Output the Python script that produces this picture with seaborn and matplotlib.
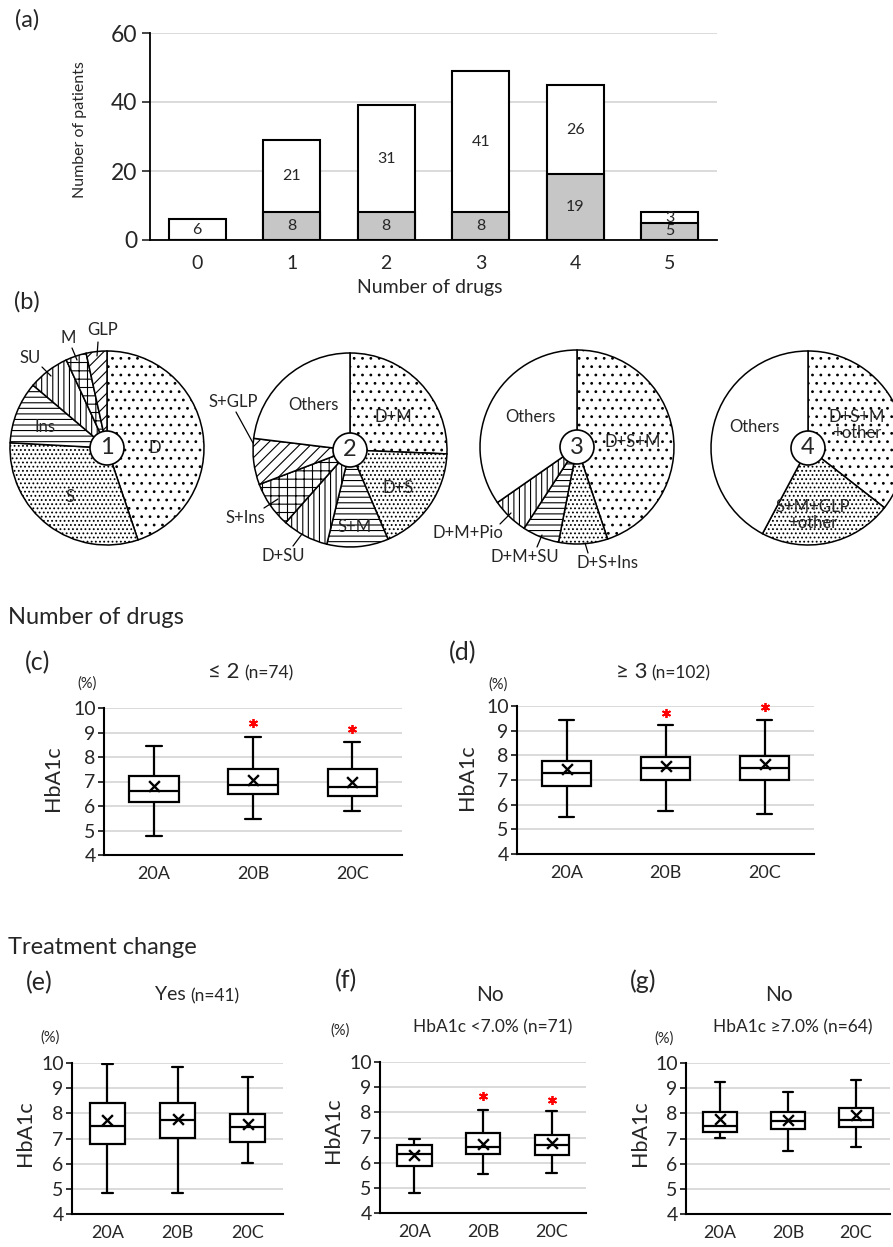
import numpy as np
import pandas as pd
import matplotlib
matplotlib.use("Agg")
import matplotlib.pyplot as plt
import seaborn as sns
from matplotlib.patches import Circle

# ---------------- data ----------------
# (a) stacked bars
n_drugs = ["0", "1", "2", "3", "4", "5"]
grey_counts = [0, 8, 8, 8, 19, 5]
white_counts = [6, 21, 31, 41, 26, 3]

# (b) pies (patients per regimen)
pie1_labels = ["D", "S", "Ins", "SU", "M", "GLP"]
pie1_values = [13, 9, 3, 2, 1, 1]
pie2_labels = ["D+M", "D+S", "S+M", "D+SU", "S+Ins", "S+GLP", "Others"]
pie2_values = [10, 7, 4, 3, 3, 3, 9]
pie3_labels = ["D+S+M", "D+S+Ins", "D+M+SU", "D+M+Pio", "Others"]
pie3_values = [22, 4, 3, 3, 17]
pie4_labels = ["D+S+M\n+other", "S+M+GLP\n+other", "Others"]
pie4_values = [16, 10, 19]

# (c)-(g) HbA1c box plots: [min, Q1, median, Q3, max] per group
groups = ["20A", "20B", "20C"]
c_five = [[4.78, 6.15, 6.62, 7.24, 8.43], [5.46, 6.48, 6.86, 7.49, 8.81], [5.78, 6.41, 6.79, 7.49, 8.61]]
c_mean = [6.82, 7.07, 7.00]
c_star = [None, 9.39, 9.14]
d_five = [[5.49, 6.74, 7.28, 7.79, 9.43], [5.73, 6.98, 7.49, 7.94, 9.22], [5.63, 6.98, 7.49, 7.98, 9.43]]
d_mean = [7.45, 7.57, 7.64]
d_star = [None, 9.73, 9.97]
e_five = [[4.85, 6.79, 7.50, 8.41, 9.96], [4.85, 7.01, 7.74, 8.41, 9.83], [6.02, 6.85, 7.44, 7.98, 9.44]]
e_mean = [7.74, 7.76, 7.57]
e_star = [None, None, None]
f_five = [[4.79, 5.87, 6.33, 6.69, 6.94], [5.54, 6.36, 6.62, 7.18, 8.11], [5.59, 6.32, 6.72, 7.10, 8.04]]
f_mean = [6.29, 6.73, 6.79]
f_star = [None, 8.66, 8.48]
g_five = [[7.01, 7.25, 7.48, 8.04, 9.23], [6.52, 7.38, 7.68, 8.04, 8.85], [6.65, 7.44, 7.75, 8.23, 9.34]]
g_mean = [7.77, 7.75, 7.95]
g_star = [None, None, None]

# ---------------- setup ----------------
sns.set_theme(style="white")
plt.rcParams["font.family"] = ["Lato", "DejaVu Sans"]
plt.rcParams["hatch.linewidth"] = 0.8

W, H = 893, 1247
fig = plt.figure(figsize=(W / 100, H / 100), dpi=100)


def axrect(l, t, r, b):
    return [l / W, 1 - b / H, (r - l) / W, (b - t) / H]


def ftext(x, y, s, ha="center", va="center", **kw):
    fig.text(x / W, 1 - y / H, s, ha=ha, va=va, **kw)


# ---------------- (a) bar chart ----------------
ax = fig.add_axes(axrect(150, 33, 717, 240))
totals = [g + w for g, w in zip(grey_counts, white_counts)]
sns.barplot(x=n_drugs, y=totals, order=n_drugs, color="white", edgecolor="black",
            linewidth=1.5, width=0.6, saturation=1, ax=ax, zorder=2)
sns.barplot(x=n_drugs, y=grey_counts, order=n_drugs, color="#c6c6c6", edgecolor="black",
            linewidth=1.5, width=0.6, saturation=1, ax=ax, zorder=3)
for i, (g, w) in enumerate(zip(grey_counts, white_counts)):
    if g > 0:
        ax.text(i, g / 2, str(g), ha="center", va="center", fontsize=11.5, zorder=4)
    ax.text(i, g + w / 2, str(w), ha="center", va="center", fontsize=11.5, zorder=4)
ax.set_xlim(-0.5, 5.5)
ax.set_ylim(0, 60)
ax.set_yticks([0, 20, 40, 60])
ax.yaxis.grid(True, color="#d4d4d4", lw=1.2)
ax.set_axisbelow(True)
for s in ["top", "right"]:
    ax.spines[s].set_visible(False)
for s in ["left", "bottom"]:
    ax.spines[s].set_color("black")
    ax.spines[s].set_linewidth(1.3)
ax.tick_params(axis="y", left=True, length=6, width=1.2, labelsize=16.5, pad=3)
ax.tick_params(axis="x", length=0, labelsize=14, pad=11)
ax.set_xlabel("")
ax.set_ylabel("")
ftext(80, 130, "Number of patients", rotation=90, fontsize=11.5)
ftext(430, 287, "Number of drugs", fontsize=14)
ftext(27, 20, "(a)", fontsize=17)

# ---------------- (b) pies ----------------
pax = fig.add_axes(axrect(0, 290, W, 600))
R = 97


def draw_pie(values, cx, cy, hatches, num):
    wedges, _ = pax.pie(values, colors=["white"] * len(values), startangle=90,
                        counterclock=False, center=(cx, H - cy), radius=R,
                        wedgeprops=dict(edgecolor="black", linewidth=1.1))
    for w, h in zip(wedges, hatches):
        if h:
            w.set_hatch(h)
    pax.add_patch(Circle((cx, H - cy), 17, facecolor="white", edgecolor="black", lw=1.2, zorder=5))
    pax.text(cx, H - cy, num, ha="center", va="center", fontsize=17, zorder=6)


def ptext(x, y, s, fs=12, **kw):
    pax.text(x, H - y, s, ha="center", va="center", fontsize=fs, zorder=7, **kw)


def lead(x1, y1, x2, y2):
    pax.plot([x1, x2], [H - y1, H - y2], color="black", lw=0.9, zorder=7)


draw_pie(pie1_values, 107, 448, ["..", "....", "---", "|||", "++", "///"], "1")
draw_pie(pie2_values, 350, 450, ["..", "....", "---", "|||", "++", "///", None], "2")
draw_pie(pie3_values, 577, 447, ["..", "....", "---", "|||", None], "3")
draw_pie(pie4_values, 808, 448, ["..", "....", None], "4")

# pie 1 labels
ptext(155, 448, pie1_labels[0])
ptext(70, 497, pie1_labels[1])
ptext(45, 427, pie1_labels[2])
ptext(30, 358, pie1_labels[3]); lead(42, 367, 51, 376)
ptext(68, 338, pie1_labels[4]); lead(72, 348, 77, 360)
ptext(103, 330, pie1_labels[5]); lead(98, 342, 97, 356)
# pie 2 labels
ptext(393, 417, pie2_labels[0])
ptext(398, 488, pie2_labels[1])
ptext(355, 527, pie2_labels[2])
ptext(283, 556, pie2_labels[3]); lead(293, 546, 302, 534)
ptext(245, 518, pie2_labels[4]); lead(264, 508, 278, 499)
ptext(233, 402, pie2_labels[5]); lead(236, 412, 253, 443)
ptext(313, 405, pie2_labels[6])
# pie 3 labels
ptext(633, 442, pie3_labels[0])
ptext(607, 563, pie3_labels[1]); lead(588, 553, 585, 543)
ptext(525, 557, pie3_labels[2]); lead(537, 547, 542, 535)
ptext(468, 533, pie3_labels[3]); lead(500, 524, 511, 513)
ptext(530, 417, pie3_labels[4])
# pie 4 labels
ptext(857, 425, pie4_labels[0], linespacing=1.0)
ptext(813, 515, pie4_labels[1], linespacing=1.0)
ptext(754, 427, pie4_labels[2])

pax.set_xlim(0, W)
pax.set_ylim(H - 600, H - 290)
pax.set_aspect("equal")
pax.axis("off")
ftext(27, 302, "(b)", fontsize=17)


# ---------------- (c)-(g) box plots ----------------
def box_panel(rect, five, means, stars):
    ax = fig.add_axes(axrect(*rect))
    rows = [(g, v) for g, f in zip(groups, five) for v in f]
    df = pd.DataFrame(rows, columns=["group", "HbA1c"])
    sns.boxplot(data=df, x="group", y="HbA1c", order=groups, ax=ax, width=0.5,
                color="white", linecolor="black", linewidth=1.6, whis=(0, 100),
                fliersize=0, capwidths=0.16)
    ax.scatter(range(len(groups)), means, marker="x", s=60, c="black", linewidths=1.7, zorder=6)
    for i, s in enumerate(stars):
        if s is not None:
            ax.plot(i, s, marker=(6, 2, 0), color="red", ms=6.5, mew=1.3, clip_on=False, zorder=6)
    ax.set_xlim(-0.5, 2.5)
    ax.set_ylim(4, 10)
    ax.set_yticks(range(4, 11))
    ax.yaxis.grid(True, color="#d4d4d4", lw=1.2)
    ax.set_axisbelow(True)
    for s in ["top", "right"]:
        ax.spines[s].set_visible(False)
    for s in ["left", "bottom"]:
        ax.spines[s].set_color("black")
        ax.spines[s].set_linewidth(1.5)
    ax.tick_params(axis="y", left=True, length=4, width=1.3, labelsize=14, pad=2)
    ax.tick_params(axis="x", length=0, labelsize=13, pad=8)
    ax.set_xlabel("")
    ax.set_ylabel("")
    return ax


ftext(8, 617, "Number of drugs", ha="left", fontsize=17)
ftext(8, 947, "Treatment change", ha="left", fontsize=17)

# (c)
box_panel((104, 708, 402, 855), c_five, c_mean, c_star)
ftext(38, 663, "(c)", fontsize=18)
ftext(240, 672, "≤ 2", ha="right", fontsize=16)
ftext(244, 673, "(n=74)", ha="left", fontsize=12.5)
ftext(87, 684, "(%)", fontsize=10.5)
ftext(53, 778, "HbA1c", rotation=90, fontsize=15.5)

# (d)
box_panel((517, 706, 814, 854), d_five, d_mean, d_star)
ftext(463, 653, "(d)", fontsize=18)
ftext(647, 672, "≥ 3", ha="right", fontsize=16)
ftext(651, 673, "(n=102)", ha="left", fontsize=12.5)
ftext(498, 685, "(%)", fontsize=10.5)
ftext(467, 777, "HbA1c", rotation=90, fontsize=15.5)

# (e)
box_panel((72, 1063, 283, 1214), e_five, e_mean, e_star)
ftext(39, 983, "(e)", fontsize=18)
ftext(186, 995, "Yes", ha="right", fontsize=14)
ftext(190, 996, "(n=41)", ha="left", fontsize=12.5)
ftext(50, 1038, "(%)", fontsize=10.5)
ftext(25, 1133, "HbA1c", rotation=90, fontsize=15.5)

# (f)
box_panel((380, 1062, 586, 1213), f_five, f_mean, f_star)
ftext(346, 981, "(f)", fontsize=18)
ftext(490, 995, "No", fontsize=15)
ftext(493, 1027, "HbA1c <7.0% (n=71)", fontsize=12.5)
ftext(340, 1031, "(%)", fontsize=10.5)
ftext(333, 1130, "HbA1c", rotation=90, fontsize=15.5)

# (g)
box_panel((686, 1063, 890, 1214), g_five, g_mean, g_star)
ftext(643, 981, "(g)", fontsize=18)
ftext(779, 995, "No", fontsize=15)
ftext(793, 1027, "HbA1c ≥7.0% (n=64)", fontsize=12.5)
ftext(664, 1039, "(%)", fontsize=10.5)
ftext(640, 1133, "HbA1c", rotation=90, fontsize=15.5)

fig.savefig("out.png", dpi=100)
